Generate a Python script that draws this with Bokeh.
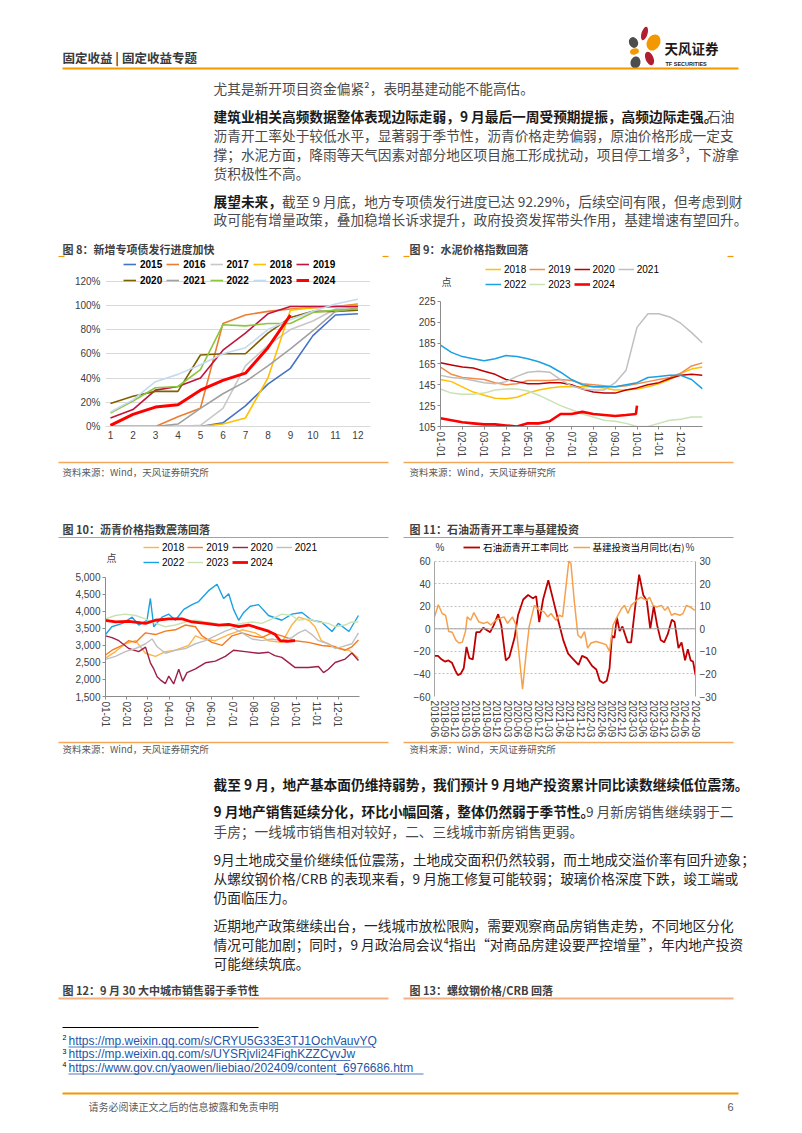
import math
from bokeh.plotting import figure
from bokeh.models import (Range1d, LinearAxis, Legend, LegendItem, FixedTicker,
                          PrintfTickFormatter, NumeralTickFormatter, Label, Span, Spacer)
from bokeh.layouts import column, row
from bokeh.embed import file_html
from bokeh.resources import INLINE
from bokeh.core.properties import value

CJK = "Noto Sans CJK SC"
LAT = "Liberation Sans"
ORANGE = "#F39800"

# ---------------- data: Fig 8 (新增专项债发行进度, %) ----------------
months8 = [1, 2, 3, 4, 5, 6, 7, 8, 9, 10, 11, 12]
bond_2015 = [0, 0, 0, 0, 0, 3, 17, 35, 48, 75, 92, 93]
bond_2016 = [0, 0, 0, 8, 15, 85, 92, 95, 97, 98, 99, 101]
bond_2017 = [0, 0, 0, 0, 1, 15, 50, 67, 80, 87, 97, 99]
bond_2018 = [0, 0, 0, 0, 0, 2, 7, 40, 96, 98, 99, 100]
bond_2019 = [7, 14, 30, 33, 40, 63, 77, 93, 99, 99, 99, 99]
bond_2020 = [19, 25, 29, 29, 59, 60, 60, 77, 90, 95, 95, 96]
bond_2021 = [0, 0, 0, 2, 15, 27, 37, 50, 64, 79, 95, 98]
bond_2022 = [11, 21, 32, 33, 47, 84, 83, 85, 85, 94, 96, 97]
bond_2023 = [12, 22, 37, 43, 51, 60, 65, 80, 88, 95, 101, 105]
bond_2024 = [1, 10, 16, 18, 30, 38, 44, 65, 92]
bond_ticks = [0, 20, 40, 60, 80, 100, 120]

# ---------------- data: Fig 9 (水泥价格指数, 点), x in months from 01-01 ----------------
half_months = [i / 2 for i in range(25)]
cement_2018 = [150, 148, 143, 138, 135, 132, 131.5, 133, 137, 140, 142, 143, 143, 143, 143, 142, 140, 140, 141, 143, 146, 150, 156, 160, 162]
cement_2019 = [162, 155, 152, 151, 150, 147, 145, 146, 149, 149, 149, 150, 149, 146, 145, 144, 143, 144, 146, 148, 150, 152, 156, 163, 166]
cement_2020 = [166, 164, 162, 161, 158, 155, 150, 148, 146, 146, 147, 147, 145, 141, 138, 137, 137, 140, 142, 145, 147, 151, 154, 155, 154]
cement_2021 = [154, 152, 151, 149, 147, 146, 148, 153, 157, 158, 157, 150, 144, 141, 140, 140, 147, 159, 200, 213, 213, 210, 204, 195, 185]
cement_2022 = [183, 176, 172, 170, 168, 170, 173, 172, 170, 167, 163, 157, 150, 145, 143, 143, 143, 145, 147, 152, 153, 154, 154, 150, 141]
cement_2023 = [141, 137, 136, 136, 137, 140, 141, 141, 139, 135, 130, 125, 121, 117, 114, 111, 110, 108, 105, 105, 108, 111, 112, 114, 114]
cement_2024_x = [0, 0.5, 1, 1.5, 2, 2.5, 3, 3.5, 4, 4.5, 5, 5.5, 6, 6.5, 7, 7.5, 8, 8.5, 8.95, 9.0]
cement_2024 = [113, 111, 109, 108, 107, 107, 106, 105, 108, 108, 110, 117, 117, 119, 117, 116, 115, 116, 117, 125]
cement_ticks = [105, 125, 145, 165, 185, 205, 225]
month_labels = ["01-01", "02-01", "03-01", "04-01", "05-01", "06-01",
                "07-01", "08-01", "09-01", "10-01", "11-01", "12-01"]

# ---------------- data: Fig 10 (沥青价格指数, 点) ----------------
asphalt_2018_x = [0, 0.47, 0.94, 1.42, 1.89, 2.36, 2.83, 3.3, 3.93, 4.25, 4.56, 5.19, 5.82, 6.45, 7.08, 7.7, 8.33, 8.8, 9.12, 9.6, 9.9, 10.2, 10.5, 11.0, 11.5, 11.95]
asphalt_2018 = [2630, 2820, 3050, 3140, 2770, 2680, 2820, 2860, 3000, 3280, 3200, 3140, 3320, 3460, 3370, 3140, 3090, 3600, 3830, 3740, 3550, 3140, 3050, 2910, 2860, 2630]
asphalt_2019_x = [0, 0.31, 0.79, 1.1, 1.42, 1.89, 2.36, 2.83, 3.3, 3.77, 4.25, 4.56, 5.03, 5.5, 5.97, 6.45, 6.92, 7.39, 7.86, 8.33, 8.96, 9.59, 10.22, 10.85, 11.32, 11.64, 11.95]
asphalt_2019 = [2720, 2860, 3000, 3140, 3090, 3370, 3320, 3420, 3460, 3600, 3550, 3280, 3090, 3000, 3280, 3370, 3280, 3230, 3370, 3280, 3140, 3090, 3000, 2960, 2860, 2960, 3160]
asphalt_2020_x = [0, 0.31, 0.63, 1.1, 1.57, 1.89, 2.12, 2.28, 2.44, 2.59, 2.83, 2.99, 3.22, 3.46, 3.65, 3.85, 4.25, 4.72, 5.19, 5.66, 6.05, 6.6, 7.23, 7.7, 8.0, 8.33, 8.96, 9.59, 10.06, 10.3, 10.53, 10.85, 11.32, 11.64, 11.95]
asphalt_2020 = [3280, 3230, 3140, 2910, 2820, 2950, 2490, 2310, 2080, 1990, 1880, 2100, 1870, 2300, 1950, 2200, 2310, 2490, 2540, 2680, 2860, 2820, 2770, 2800, 2700, 2650, 2350, 2350, 2380, 2200, 2300, 2500, 2600, 2780, 2560]
asphalt_2021_x = [0, 0.47, 0.94, 1.42, 1.89, 2.2, 2.44, 2.83, 3.3, 3.77, 4.25, 4.72, 5.19, 5.66, 6.05, 6.45, 6.92, 7.39, 7.86, 8.33, 8.8, 9.12, 9.43, 9.75, 10.06, 10.53, 10.85, 11.16, 11.64, 11.95]
asphalt_2021 = [2590, 2680, 2820, 2910, 3050, 3190, 2960, 2770, 2860, 2910, 3050, 3140, 3280, 3420, 3510, 3370, 3190, 3140, 3190, 3140, 3230, 3370, 3460, 3320, 3140, 3050, 2910, 2960, 3050, 3370]
asphalt_2022_x = [0, 0.3, 0.8, 1.26, 1.57, 1.96, 2.12, 2.28, 2.67, 2.99, 3.3, 3.7, 4.09, 4.4, 4.87, 5.27, 5.58, 5.82, 6.05, 6.29, 6.53, 6.84, 7.23, 7.7, 8.33, 8.8, 9.28, 9.75, 10.2, 10.7, 11.0, 11.5, 11.95]
asphalt_2022 = [3320, 3550, 3650, 3830, 3600, 3740, 4380, 3550, 3830, 3920, 3740, 4060, 4200, 4290, 4610, 4800, 4380, 4520, 4060, 3740, 3970, 4150, 4200, 3880, 3740, 3920, 3970, 3740, 3690, 3410, 3650, 3410, 3880]
asphalt_2023_x = [0, 0.47, 0.94, 1.42, 1.89, 2.36, 2.83, 3.3, 3.77, 4.25, 4.72, 5.19, 5.66, 6.05, 6.45, 6.92, 7.39, 7.86, 8.33, 8.8, 9.12, 9.59, 10.06, 10.53, 10.85, 11.32, 11.64, 11.95]
asphalt_2023 = [3780, 3880, 3920, 3880, 3780, 3650, 3550, 3600, 3690, 3740, 3690, 3650, 3550, 3600, 3650, 3690, 3650, 3780, 3920, 3880, 3740, 3780, 3690, 3650, 3550, 3600, 3690, 3690]
asphalt_2024_x = [0, 0.47, 1.1, 1.89, 2.36, 2.99, 3.62, 4.09, 4.72, 5.35, 5.82, 6.29, 6.76, 7.23, 7.7, 8.02, 8.25, 8.57, 8.96]
asphalt_2024 = [3740, 3690, 3710, 3650, 3740, 3780, 3780, 3690, 3650, 3600, 3620, 3550, 3600, 3510, 3420, 3320, 3140, 3120, 3140]
asphalt_ticks = [1500, 2000, 2500, 3000, 3500, 4000, 4500, 5000]

# ---------------- data: Fig 11 (months since 2018-06) ----------------
rate_t = [0, 1, 2, 3, 4, 5, 6, 6.7, 7.5, 8.4, 9.2, 10, 11, 12, 13, 14, 15, 16, 17, 18.3, 19.2, 20.5, 21.5, 23, 24, 25.5, 26.9, 28.3,
          29.2, 30.1, 31.2, 32.7, 34, 35.5, 37, 38.4, 39.9, 41.4, 42.4, 43.8, 45.3, 46.5, 47.5, 48.5, 49.5, 50.3, 51, 51.7, 52.4,
          53.2, 54, 55.5, 56.5, 57.5, 58.8, 60, 61, 62, 63, 64, 65, 66, 67, 68.2, 69, 70.1, 71, 72, 72.8, 73.6, 74.3, 75]
rate_yoy = [-24, -24, -27, -29, -28, -30, -37, -41, -40, -35, -16, -26, -27, -3, -3, 1, -1, -3, 3, 13, 3, -28, -25, -8, 12, 26, 30, 27,
            29, 6, 26, 43, 27, 8, -10, -22, -27, -32, -24, -26, -33, -36, -46, -48, -46, -35, -6, -8, 10,
            -2, 2, -12, -12, 15, 48, 30, 25, 0, 20, 3, -10, -12, -5, 8, 6, -17, -12, -28, -18, -28, -29, -41]
infra_t = [0, 1.1, 2.2, 3.2, 4.1, 5.1, 6.1, 7, 8, 8.9, 9.4, 10.4, 11.3, 12.8, 14.2, 15.2, 16.2, 17.6, 18.6, 20,
           21, 22.4, 23.4, 24.3, 25.3, 26.3, 27.2, 28.7, 30.1, 31.5, 32.5, 33.5, 34.9, 35.9, 36.8, 37.8, 38.6, 39.2, 40.2, 41.2,
           42.1, 43.1, 44, 45, 46.4, 47.9, 49.3, 50.3, 51.3, 52.7, 53.7, 54.6, 55.6, 56.5, 57.5, 58.5, 59.4, 60.9, 61.8, 62.8,
           63.8, 65.2, 66.2, 67.1, 68.1, 69, 70.5, 71.4, 72.4, 73.4, 74.8]
infra_yoy = [5.3, 10.7, 6.8, 6, -1.2, -1.5, -4.9, -6.3, -5.9, -1.2, 5.3, 3.8, 7.2, 3, 2.4, 3, 1.7, 3.8, 4.6, 5.3,
             2.4, 5.3, 1.7, -11.4, -26.7, -11.4, 0.9, 10.4, 8.2, 7.5, 5.3, 6.8, 3.8, 6, 5.3, 19, 30, 29, 11.8, -2.7,
             -4.1, -1.2, -8.5, -6.3, -5.6, -6.3, -7, -10, 1.7, 6, 8.9, 10.4, 6.8, 10.4, 11.8, 13.3, 14, 12.6, 14, 10.4,
             9.7, 10.4, 8.2, 9.7, 6, 6.8, 6, 6.8, 10.4, 9.7, 8.2]
quarter_labels = ["2018-06", "2018-09", "2018-12", "2019-03", "2019-06", "2019-09", "2019-12", "2020-03", "2020-06",
                  "2020-09", "2020-12", "2021-03", "2021-06", "2021-09", "2021-12", "2022-03", "2022-06", "2022-09",
                  "2022-12", "2023-03", "2023-06", "2023-09", "2023-12", "2024-03", "2024-06", "2024-09"]
left_ticks = [-60, -40, -20, 0, 20, 40, 60]
right_ticks = [-30, -20, -10, 0, 10, 20, 30]

PAGE_W = 794


# ---------------- helpers ----------------
def strip(y0, y1):
    # page strip drawn in the reference picture's own pixel coordinates
    p = figure(width=PAGE_W, height=y1 - y0, x_range=Range1d(0, PAGE_W), y_range=Range1d(y1, y0),
               toolbar_location=None, output_backend="svg", min_border=0,
               x_axis_location=None, y_axis_location=None, outline_line_color=None)
    p.grid.visible = False
    return p


def txt(p, x, y, s, size, color="#404040", bold=False, font=CJK, align="left"):
    p.text(x=[x], y=[y], text=[s], text_font=value(font), text_font_size=size,
           text_color=color, text_font_style="bold" if bold else "normal",
           text_baseline="middle", text_align=align)


def hline(p, x0, x1, y, color=ORANGE, w=1.0):
    p.segment(x0=[x0], y0=[y], x1=[x1], y1=[y], line_color=color, line_width=w)


def chart(w, h, xr, yr, ml, mr, mb):
    # the plot frame reaches the top of the canvas so that legends / unit labels sit inside it
    p = figure(width=w, height=h, x_range=xr, y_range=yr, toolbar_location=None,
               output_backend="svg", min_border_left=ml, min_border_right=mr,
               min_border_top=0, min_border_bottom=mb, outline_line_color=None)
    for ax in p.axis:
        ax.major_label_text_font = LAT
        ax.major_label_text_font_size = "10px"
        ax.major_label_text_color = "#404040"
        ax.minor_tick_line_color = None
    return p


def legend(p, items, ncols, loc, font=LAT, style="normal", size="10px", gw=16, gh=12, standoff=3, spacing=3):
    lg = Legend(items=items, orientation="horizontal", ncols=ncols, location=loc,
                label_text_font=font, label_text_font_style=style, label_text_font_size=size,
                label_text_color="#000000", glyph_width=gw, glyph_height=gh, label_height=gh,
                label_standoff=standoff, spacing=spacing, padding=0, margin=0,
                border_line_color=None, background_fill_alpha=0)
    p.add_layout(lg)


def unit(p, x, y, s, align, font=CJK):
    p.add_layout(Label(x=x, y=y, text=s, text_font=font, text_font_size="10px",
                       text_color="#404040", text_align=align, text_baseline="middle"))


SRC = "资料来源：Wind，天风证券研究所"

# ---------------- top strip (page y 0..258) ----------------
top = strip(0, 258)
txt(top, 62, 57, "固定收益 | 固定收益专题", "12.5px", "#3a3a3a", bold=True)
top.ellipse(x=[644, 653, 633, 634, 649, 635], y=[33, 42, 42, 51, 58, 62],
            width=[6, 13, 9, 9, 8, 10], height=[14, 17, 11, 6, 14, 12],
            angle=[-0.3, -0.5, 0.4, 0.2, 0.4, -0.2],
            fill_color=["#B01E2F", ORANGE, "#4D4D4D", ORANGE, "#B01E2F", "#4D4D4D"], line_color=None)
txt(top, 664, 47, "天风证券", "13.5px", "#231815", bold=True)
txt(top, 665, 63, "TF SECURITIES", "5.5px", "#231815", bold=True, font=LAT)
hline(top, 62, 738, 68, ORANGE, 2)

FS = "13.7px"
NORM = "#4a4a4a"
BOLDC = "#1a1a1a"
txt(top, 213, 87, "尤其是新开项目资金偏紧²，表明基建动能不能高估。", FS, NORM)
txt(top, 213, 115, "建筑业相关高频数据整体表现边际走弱，9 月最后一周受预期提振，高频边际走强。", FS, BOLDC, bold=True)
txt(top, 734, 115, "石油", FS, NORM, align="right")
txt(top, 213, 134.5, "沥青开工率处于较低水平，显著弱于季节性，沥青价格走势偏弱，原油价格形成一定支", FS, NORM)
txt(top, 213, 153.5, "撑；水泥方面，降雨等天气因素对部分地区项目施工形成扰动，项目停工增多³，下游拿", FS, NORM)
txt(top, 213, 172.7, "货积极性不高。", FS, NORM)
txt(top, 213, 200, "展望未来，", FS, BOLDC, bold=True)
txt(top, 281.5, 200, "截至 9 月底，地方专项债发行进度已达 92.29%，后续空间有限，但考虑到财", FS, NORM)
txt(top, 213, 218.5, "政可能有增量政策，叠加稳增长诉求提升，政府投资发挥带头作用，基建增速有望回升。", FS, NORM)

txt(top, 62, 248, "图 8：新增专项债发行进度加快", "11px", "#404040", bold=True)
txt(top, 409, 248, "图 9：水泥价格指数回落", "11px", "#404040", bold=True)
for a, b in [(58, 64), (382, 388), (403, 409), (727, 733)]:
    hline(top, a, b, 256, ORANGE, 1.2)

# ---------------- Fig 8 ----------------  (frame 105..370 x, 258..444 y; 120% at 283)
p8 = chart(330, 202, Range1d(0.78, 12.56), Range1d(0, 138.6), 47, 18, 16)
p8.xaxis.ticker = FixedTicker(ticks=months8)
p8.yaxis.ticker = FixedTicker(ticks=bond_ticks)
p8.yaxis.formatter = PrintfTickFormatter(format="%d%%")
p8.yaxis.axis_line_color = None
p8.yaxis.major_tick_line_color = None
p8.yaxis.major_tick_out = 0
p8.yaxis.major_label_standoff = 5
p8.xaxis.axis_line_color = "#D9D9D9"
p8.xaxis.major_tick_line_color = None
p8.xaxis.major_tick_out = 0
p8.xaxis.major_label_standoff = 4
p8.xgrid.visible = False
p8.ygrid.ticker = FixedTicker(ticks=bond_ticks)
p8.ygrid.grid_line_color = "#D9D9D9"
series8 = [("2015", bond_2015, "#4472C4"), ("2016", bond_2016, "#ED7D31"), ("2017", bond_2017, "#C8C8C8"),
           ("2018", bond_2018, "#FFC000"), ("2019", bond_2019, "#C0143C"), ("2020", bond_2020, "#7F6000"),
           ("2021", bond_2021, "#A0A0A0"), ("2022", bond_2022, "#8CC63F"), ("2023", bond_2023, "#C5D9F1"),
           ("2024", bond_2024, "#FF0000")]
items8 = []
for name, vals, col in series8:
    r = p8.line(months8[:len(vals)], vals, line_color=col, line_width=3 if name == "2024" else 1.6)
    items8.append(LegendItem(label=name, renderers=[r]))
legend(p8, items8, 5, (18, 140), style="bold", gw=13, gh=12, standoff=4, spacing=4)

# ---------------- Fig 9 ----------------  (frame 440..702 x, 258..427 y; 225 at 301)
p9 = chart(330, 202, Range1d(0, 12), Range1d(105, 266), 37, 31, 33)
p9.xaxis.ticker = FixedTicker(ticks=list(range(12)))
p9.xaxis.major_label_overrides = {i: lab for i, lab in enumerate(month_labels)}
p9.xaxis.major_label_orientation = -math.pi / 2
p9.yaxis.ticker = FixedTicker(ticks=cement_ticks)
p9.yaxis.bounds = (105, 225)
for ax in p9.axis:
    ax.axis_line_color = "#8C8C8C"
    ax.major_tick_line_color = "#8C8C8C"
    ax.major_tick_out = 3
    ax.major_tick_in = 0
    ax.major_label_standoff = 2
p9.grid.visible = False
series9 = [("2018", half_months, cement_2018, "#FFC000"), ("2019", half_months, cement_2019, "#F28C4B"),
           ("2020", half_months, cement_2020, "#C00000"), ("2021", half_months, cement_2021, "#BFBFBF"),
           ("2022", half_months, cement_2022, "#1BA1E2"), ("2023", half_months, cement_2023, "#C9E2B3"),
           ("2024", cement_2024_x, cement_2024, "#FF0000")]
items9 = []
for name, xs, vals, col in series9:
    r = p9.line(xs, vals, line_color=col, line_width=2.6 if name == "2024" else 1.5)
    items9.append(LegendItem(label=name, renderers=[r]))
legend(p9, items9, 4, (45, 136))
unit(p9, 0.05, 244, "点", "left")

# ---------------- middle strip (460..539) ----------------
mid = strip(460, 539)
hline(mid, 58, 388, 462, "#F5A85A", 1.5)
hline(mid, 403, 733, 462, "#F5A85A", 1.5)
txt(mid, 62, 471, SRC, "9.5px", "#595959")
txt(mid, 409, 471, SRC, "9.5px", "#595959")
txt(mid, 62, 528, "图 10：沥青价格指数震荡回落", "11px", "#404040", bold=True)
txt(mid, 409, 528, "图 11：石油沥青开工率与基建投资", "11px", "#404040", bold=True)
hline(mid, 58, 388, 537, ORANGE, 1)
hline(mid, 403, 733, 537, ORANGE, 1)

# ---------------- Fig 10 ----------------  (frame 105..359 x, 539..706 y; 5000 at 579)
p10 = chart(330, 201, Range1d(0, 12), Range1d(1500, 6113), 47, 29, 34)
p10.xaxis.ticker = FixedTicker(ticks=list(range(12)))
p10.xaxis.major_label_overrides = {i: lab for i, lab in enumerate(month_labels)}
p10.xaxis.major_label_orientation = -math.pi / 2
p10.yaxis.ticker = FixedTicker(ticks=asphalt_ticks)
p10.yaxis.formatter = NumeralTickFormatter(format="0,0")
p10.yaxis.bounds = (1500, 5000)
for ax in p10.axis:
    ax.axis_line_color = "#8C8C8C"
    ax.major_tick_line_color = "#8C8C8C"
    ax.major_tick_out = 3
    ax.major_tick_in = 0
    ax.major_label_standoff = 2
p10.grid.visible = False
series10 = [("2018", asphalt_2018_x, asphalt_2018, "#FFB347"), ("2019", asphalt_2019_x, asphalt_2019, "#F47B20"),
            ("2020", asphalt_2020_x, asphalt_2020, "#9E1F4A"), ("2021", asphalt_2021_x, asphalt_2021, "#BFBFBF"),
            ("2022", asphalt_2022_x, asphalt_2022, "#1BA1E2"), ("2023", asphalt_2023_x, asphalt_2023, "#C9E2B3"),
            ("2024", asphalt_2024_x, asphalt_2024, "#FF0000")]
items10 = []
for name, xs, vals, col in series10:
    r = p10.line(xs, vals, line_color=col, line_width=2.8 if name == "2024" else 1.4)
    items10.append(LegendItem(label=name, renderers=[r]))
legend(p10, items10, 4, (38, 128))
unit(p10, 0.05, 5590, "点", "left")

# ---------------- Fig 11 ----------------  (frame 434..695 x, 539..698 y; 60 at 561)
p11 = chart(330, 201, Range1d(0, 75), Range1d(-60, 79.2), 31, 38, 42)
p11.extra_y_ranges = {"r": Range1d(-30, 39.6)}
rax = LinearAxis(y_range_name="r", ticker=FixedTicker(ticks=right_ticks), bounds=(-30, 30))
p11.add_layout(rax, "right")
for ax in p11.axis:
    ax.major_label_text_font = LAT
    ax.major_label_text_font_size = "10px"
    ax.major_label_text_color = "#404040"
    ax.minor_tick_line_color = None
    ax.major_tick_line_color = None
    ax.major_tick_out = 0
    ax.major_tick_in = 0
    ax.major_label_standoff = 4
p11.xaxis.ticker = FixedTicker(ticks=[3 * i for i in range(len(quarter_labels))])
p11.xaxis.major_label_overrides = {3 * i: lab for i, lab in enumerate(quarter_labels)}
p11.xaxis.major_label_orientation = -math.pi / 2
p11.xaxis.axis_line_color = None
p11.yaxis[0].ticker = FixedTicker(ticks=left_ticks)
p11.yaxis[0].bounds = (-60, 60)
for ax in p11.yaxis:
    ax.axis_line_color = "#A6A6A6"
p11.xgrid.visible = False
p11.ygrid.ticker = FixedTicker(ticks=left_ticks)
p11.ygrid.grid_line_color = "#BFBFBF"
p11.ygrid.grid_line_dash = "2 2"
p11.add_layout(Span(location=0, dimension="width", line_color="#A6A6A6", line_width=1))
r_rate = p11.line(rate_t, rate_yoy, line_color="#C00000", line_width=1.8)
r_inf = p11.line(infra_t, infra_yoy, y_range_name="r", line_color="#F7A04B", line_width=1.5)
legend(p11, [LegendItem(label="石油沥青开工率同比", renderers=[r_rate]),
             LegendItem(label="基建投资当月同比(右)", renderers=[r_inf])],
       2, (29, 142), font=CJK, size="9.5px", gw=17, gh=12, standoff=3, spacing=4)
unit(p11, 0.3, 72, "%", "left", font=LAT)
unit(p11, 74.7, 72, "%", "right", font=LAT)

# ---------------- bottom strip (740..1125) ----------------
bot = strip(740, 1125)
hline(bot, 58, 388, 742, "#F5A85A", 1.5)
hline(bot, 403, 733, 742, "#F5A85A", 1.5)
txt(bot, 62, 748, SRC, "9.5px", "#595959")
txt(bot, 409, 748, SRC, "9.5px", "#595959")

DARK = "#262626"
txt(bot, 213, 783, "截至 9 月，地产基本面仍维持弱势，我们预计 9 月地产投资累计同比读数继续低位震荡。", FS, BOLDC, bold=True)
txt(bot, 213, 810, "9 月地产销售延续分化，环比小幅回落，整体仍然弱于季节性。", FS, BOLDC, bold=True)
txt(bot, 733, 810, "9 月新房销售继续弱于二", FS, NORM, align="right")
txt(bot, 213, 830, "手房；一线城市销售相对较好，二、三线城市新房销售更弱。", FS, NORM)
txt(bot, 213, 858, "9月土地成交量价继续低位震荡，土地成交面积仍然较弱，而土地成交溢价率有回升迹象；", FS, DARK)
txt(bot, 213, 877, "从螺纹钢价格/CRB 的表现来看，9 月施工修复可能较弱；玻璃价格深度下跌，竣工端或", FS, DARK)
txt(bot, 213, 896, "仍面临压力。", FS, DARK)
txt(bot, 213, 924, "近期地产政策继续出台，一线城市放松限购，需要观察商品房销售走势，不同地区分化", FS, DARK)
txt(bot, 213, 943.5, "情况可能加剧；同时，9 月政治局会议⁴指出“对商品房建设要严控增量”，年内地产投资", FS, DARK)
txt(bot, 213, 962.5, "可能继续筑底。", FS, DARK)

txt(bot, 62, 989.5, "图 12：9 月 30 大中城市销售弱于季节性", "11px", "#404040", bold=True)
txt(bot, 409, 989.5, "图 13：螺纹钢价格/CRB 回落", "11px", "#404040", bold=True)
hline(bot, 58, 388, 998, "#F4B183", 2)
hline(bot, 403, 733, 998, "#F4B183", 2)

hline(bot, 62, 258, 1027, "#000000", 1)
links = ["https://mp.weixin.qq.com/s/CRYU5G33E3TJ1OchVauvYQ",
         "https://mp.weixin.qq.com/s/UYSRjvli24FighKZZCyvJw",
         "https://www.gov.cn/yaowen/liebiao/202409/content_6976686.htm"]
link_end = [371, 350, 423]
for i, (lnk, xe) in enumerate(zip(links, link_end)):
    yy = 1040 + i * 13.5
    txt(bot, 62, yy - 3, str(i + 2), "7px", "#000000", font=LAT)
    txt(bot, 68, yy, lnk, "12px", "#2356A8", font=LAT)
    hline(bot, 68, xe, yy + 6.5, "#2356A8", 0.8)

hline(bot, 62, 738, 1093, ORANGE, 2)
txt(bot, 88, 1106, "请务必阅读正文之后的信息披露和免责申明", "10px", "#595959")
txt(bot, 733, 1106, "6", "11px", "#595959", font=LAT, align="right")

# ---------------- layout ----------------
row1 = row(Spacer(width=58, height=202), p8, Spacer(width=15, height=202), p9, Spacer(width=61, height=202))
row2 = row(Spacer(width=58, height=201), p10, Spacer(width=15, height=201), p11, Spacer(width=61, height=201))
page = column(top, row1, mid, row2, bot)

open("out.html", "w").write(file_html(page, INLINE))
